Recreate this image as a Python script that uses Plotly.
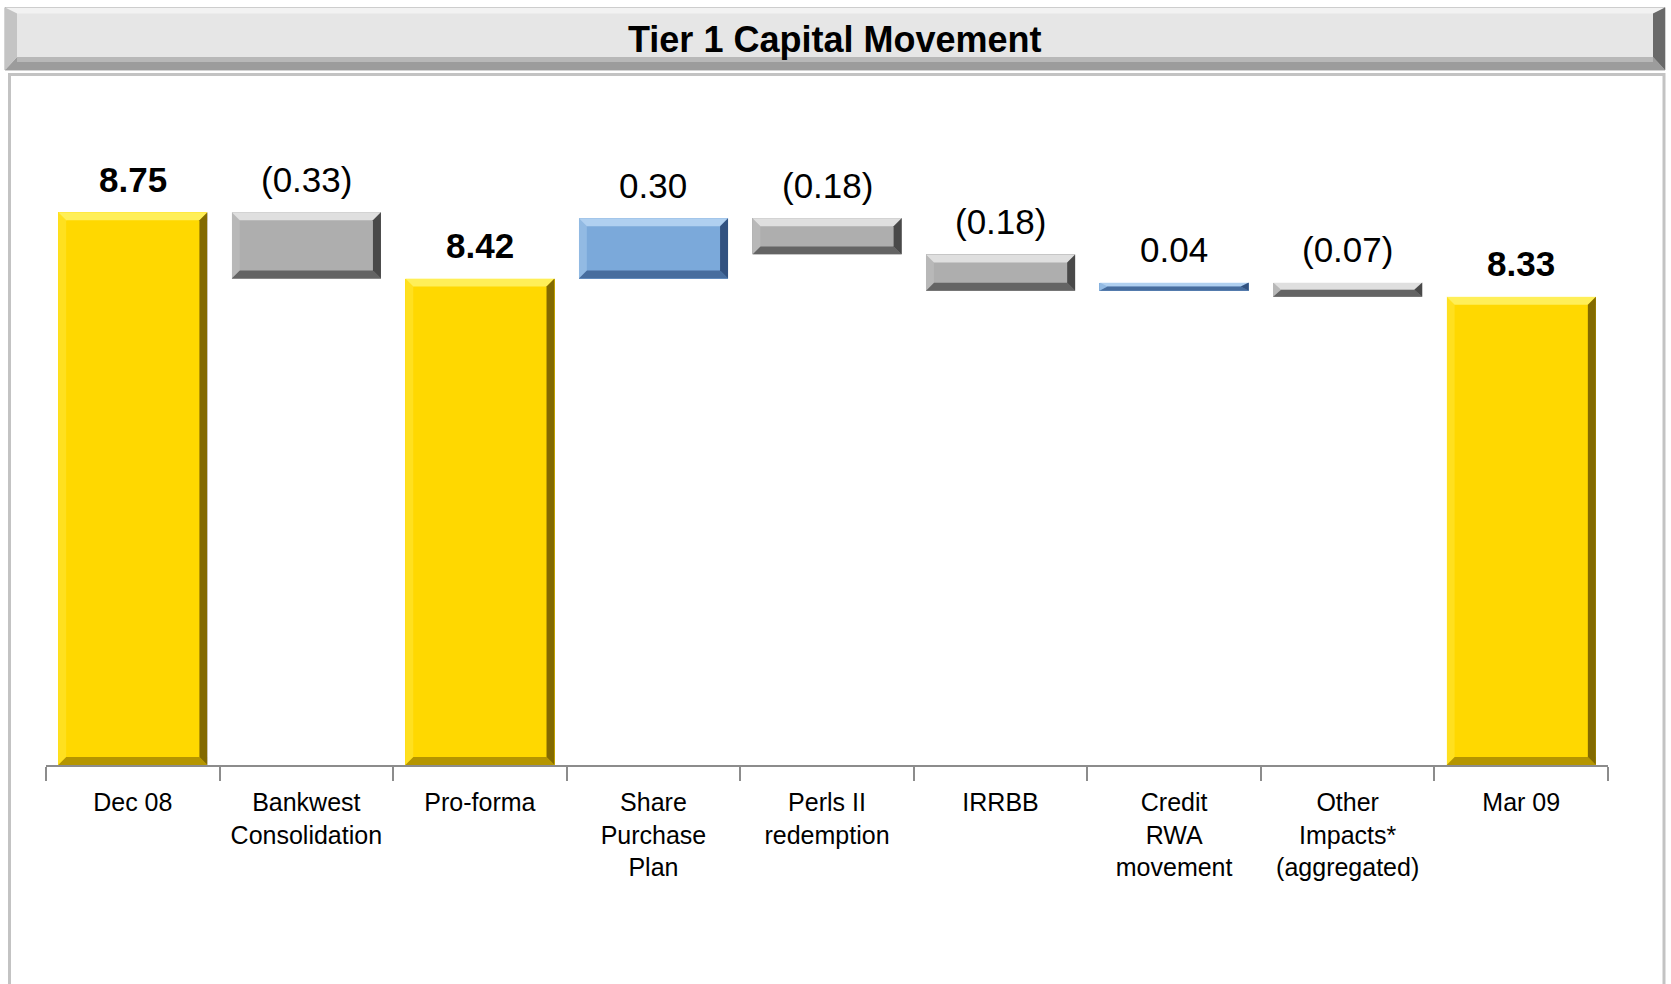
import plotly.graph_objects as go

# ---------------- data ----------------
categories = ["Dec 08", "Bankwest<br>Consolidation", "Pro-forma", "Share<br>Purchase<br>Plan",
              "Perls II<br>redemption", "IRRBB", "Credit<br>RWA<br>movement",
              "Other<br>Impacts*<br>(aggregated)", "Mar 09"]
values = [8.75, -0.33, 8.42, 0.30, -0.18, -0.18, 0.04, -0.07, 8.33]
kinds = ["total", "delta", "total", "delta", "delta", "delta", "delta", "delta", "total"]
title_text = "Tier 1 Capital Movement"

# ---------------- layout constants ----------------
W, H = 1671, 984
ml, mr, mt, mb = 46, 63, 90, 219
pw, ph = W - ml - mr, H - mt - mb
Y0 = 6.0
PX_PER_UNIT = 201.0
Y1 = Y0 + ph / PX_PER_UNIT
BAR_W = 0.86
BEV = 8  # bevel size in px

def px_x(px):
    return (px - ml) / pw

def px_y(py):
    return (H - mb - py) / ph

FONT = "Arial"

colors = {"total": "#FFD800", "up": "#7BA9DA", "down": "#AEAEAE"}

# compute waterfall geometry from data
bases, heights, fills, texts, bold = [], [], [], [], []
level = 0.0
for v, k in zip(values, kinds):
    if k == "total":
        level = v
        bases.append(Y0)
        heights.append(v - Y0)
        fills.append(colors["total"])
        texts.append(f"{v:.2f}")
        bold.append(True)
    else:
        new = level + v
        bases.append(min(level, new))
        heights.append(abs(v))
        fills.append(colors["up"] if v > 0 else colors["down"])
        texts.append(f"{v:.2f}" if v > 0 else f"({abs(v):.2f})")
        bold.append(False)
        level = new

xs = list(range(len(categories)))

fig = go.Figure()
fig.add_trace(go.Bar(
    x=xs, y=heights, base=bases, width=BAR_W,
    marker=dict(color=fills, line=dict(width=0)),
    xaxis="x2", yaxis="y", hoverinfo="skip", showlegend=False,
))
# invisible trace to hold the category axis
fig.add_trace(go.Scatter(x=categories, y=[None] * len(categories), xaxis="x", yaxis="y",
                         mode="markers", showlegend=False, hoverinfo="skip"))

shapes = []
# bevel overlays derived from the bar geometry
ppx = pw / len(categories)
for i, (b, h, k) in enumerate(zip(bases, heights, kinds)):
    x0, x1 = i - BAR_W / 2, i + BAR_W / 2
    y0, y1 = b, b + h
    dx = BEV / ppx
    dy = min(BEV / PX_PER_UNIT, h / 2)
    dxe = min(dx, (x1 - x0) / 2)
    if k == "total":
        cols = ("rgba(255,245,110,0.8)", "rgba(120,95,0,0.55)", "rgba(255,240,90,0.35)", "rgba(90,70,0,0.75)")
    elif fills[i] == colors["up"]:
        cols = ("rgba(200,225,250,0.7)", "rgba(30,60,110,0.55)", "rgba(200,225,250,0.3)", "rgba(20,45,90,0.7)")
    else:
        cols = ("rgba(235,235,235,0.8)", "rgba(40,40,40,0.55)", "rgba(210,210,210,0.3)", "rgba(30,30,30,0.7)")
    top = f"M {x0},{y1} L {x1},{y1} L {x1-dxe},{y1-dy} L {x0+dxe},{y1-dy} Z"
    bot = f"M {x0},{y0} L {x1},{y0} L {x1-dxe},{y0+dy} L {x0+dxe},{y0+dy} Z"
    lef = f"M {x0},{y0} L {x0},{y1} L {x0+dxe},{y1-dy} L {x0+dxe},{y0+dy} Z"
    rig = f"M {x1},{y0} L {x1},{y1} L {x1-dxe},{y1-dy} L {x1-dxe},{y0+dy} Z"
    for p, c in zip((top, bot, lef, rig), cols):
        shapes.append(dict(type="path", path=p, xref="x2", yref="y", fillcolor=c,
                           line=dict(width=0), layer="above"))

# panel border
shapes.append(dict(type="rect", xref="paper", yref="paper",
                   x0=px_x(9.5), x1=px_x(1664), y0=px_y(1000), y1=px_y(74.5),
                   line=dict(color="#C3C3C3", width=3), fillcolor="rgba(0,0,0,0)", layer="below"))

# title bar with bevel
tx0, tx1, ty0, ty1 = 5, 1665, 7.5, 70
shapes.append(dict(type="rect", xref="paper", yref="paper",
                   x0=px_x(tx0), x1=px_x(tx1), y0=px_y(ty1), y1=px_y(ty0),
                   line=dict(color="#A8A8A8", width=1), fillcolor="#E6E6E6"))
bt, bb, bl, br = 6, 13, 12, 12
def ppath(pts):
    return "M " + " L ".join(f"{px_x(a)},{px_y(b)}" for a, b in pts) + " Z"
shapes += [
    dict(type="path", xref="paper", yref="paper", line=dict(width=0), fillcolor="#F2F2F2",
         path=ppath([(tx0, ty0), (tx1, ty0), (tx1 - br, ty0 + bt), (tx0 + bl, ty0 + bt)])),
    dict(type="path", xref="paper", yref="paper", line=dict(width=0), fillcolor="#9C9C9C",
         path=ppath([(tx0, ty1), (tx1, ty1), (tx1 - br, ty1 - bb), (tx0 + bl, ty1 - bb)])),
    dict(type="path", xref="paper", yref="paper", line=dict(width=0), fillcolor="#C4C4C4",
         path=ppath([(tx0, ty0), (tx0, ty1), (tx0 + bl, ty1 - bb), (tx0 + bl, ty0 + bt)])),
    dict(type="path", xref="paper", yref="paper", line=dict(width=0), fillcolor="#6A6A6A",
         path=ppath([(tx1, ty0), (tx1, ty1), (tx1 - br, ty1 - bb), (tx1 - br, ty0 + bt)])),
    dict(type="path", xref="paper", yref="paper", line=dict(width=0), fillcolor="#B8B8B8",
         path=ppath([(tx0 + bl, ty1 - bb), (tx1 - br, ty1 - bb), (tx1 - br, ty1 - bb + 5), (tx0 + bl, ty1 - bb + 5)])),
]

annotations = [dict(text=f"<b>{title_text}</b>", xref="paper", yref="paper",
                    x=px_x(834), y=px_y(40), xanchor="center", yanchor="middle",
                    showarrow=False, font=dict(family=FONT, size=36, color="black"))]
for i, (b, h, t, bo) in enumerate(zip(bases, heights, texts, bold)):
    annotations.append(dict(text=f"<b>{t}</b>" if bo else t, x=i, y=b + h, xref="x2", yref="y",
                            xanchor="center", yanchor="middle", yshift=33, showarrow=False,
                            font=dict(family=FONT, size=35, color="black")))

fig.update_layout(
    width=W, height=H,
    margin=dict(l=ml, r=mr, t=mt, b=mb, pad=0),
    paper_bgcolor="white", plot_bgcolor="white",
    barmode="overlay", bargap=0,
    xaxis=dict(type="category", categoryorder="array", categoryarray=categories,
               range=[-0.5, len(categories) - 0.5],
               tickson="boundaries", ticks="outside", ticklen=14, tickwidth=2, tickcolor="#8C8C8C",
               ticklabelstandoff=14,
               showline=True, linecolor="#8C8C8C", linewidth=2, showgrid=False, zeroline=False,
               tickfont=dict(family=FONT, size=25, color="black"), fixedrange=True),
    xaxis2=dict(overlaying="x", range=[-0.5, len(categories) - 0.5], visible=False, fixedrange=True),
    yaxis=dict(range=[Y0, Y1], visible=False, showgrid=False, zeroline=False, fixedrange=True),
    shapes=shapes, annotations=annotations,
    font=dict(family=FONT),
)

fig.write_html("out.html")
